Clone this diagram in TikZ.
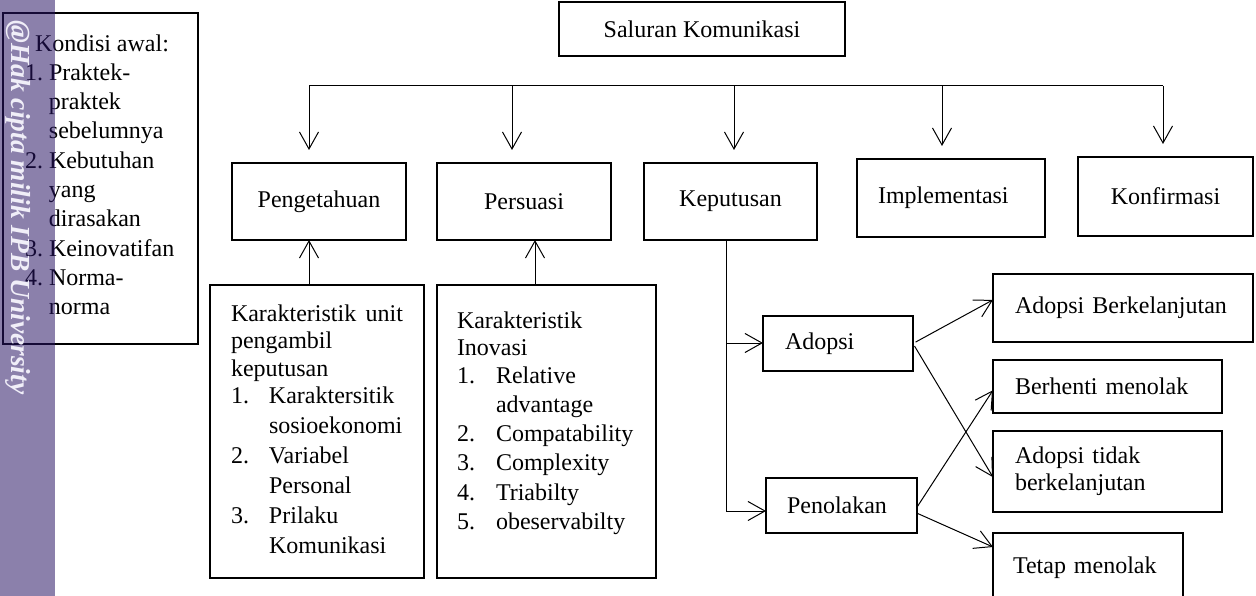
\documentclass[tikz,border=0pt]{standalone}
\usepackage{fontspec}
\usepackage{graphicx}
\setmainfont{Liberation Serif}
\newfontfamily\wmfont{Liberation Serif}
\usetikzlibrary{arrows.meta,calc}
\definecolor{wmband}{RGB}{40,20,100}
\definecolor{wmtext}{RGB}{240,238,248}
\begin{document}
\begin{tikzpicture}[x=1pt,y=-1pt,
  font=\fontsize{24}{29}\selectfont,
  box/.style={draw, line width=2.6pt, inner sep=0pt, outer sep=0pt, anchor=north west},
  cbox/.style={box, align=center},
  lbox/.style={box, align=left},
  conn/.style={line width=1pt},
  arr/.style={conn, -{Straight Barb[length=17pt,width=19pt]}},
  txt/.style={inner sep=0pt, outer sep=0pt, anchor=north west, align=left}
]
\useasboundingbox (0,0) rectangle (1256,596);
\clip (0,0) rectangle (1256,596);

% top row
\node[cbox, minimum width=286pt, minimum height=54pt] (sal) at (559,2) {Saluran Komunikasi};
\node[cbox, minimum width=174pt, minimum height=77pt] (peng) at (232,163) {Pengetahuan};
\node[cbox, minimum width=174pt, minimum height=77pt] (pers) at (437,163) {Persuasi};
\node[cbox, minimum width=173pt, minimum height=77pt] (kep) at (644,163) {Keputusan};
\node[lbox, inner xsep=21pt, text width=146pt, minimum height=78pt] (impl) at (857,159) {Implementasi};
\node[cbox, minimum width=175pt, minimum height=79pt] (konf) at (1078,157) {Konfirmasi};

% Kondisi awal
\node[box, minimum width=195pt, minimum height=331pt] (kond) at (3,13) {};
\node[txt, font=\fontsize{24}{29.3}\selectfont] (kondt) at (25,30.5)
 {\strut\hspace*{10pt}Kondisi awal:\\
  \makebox[24pt][l]{1.}Praktek-\\
  \hspace*{24pt}praktek\\
  \hspace*{24pt}sebelumnya\\
  \makebox[24pt][l]{2.}Kebutuhan\\
  \hspace*{24pt}yang\\
  \hspace*{24pt}dirasakan\\
  \makebox[24pt][l]{3.}Keinovatifan\\
  \makebox[24pt][l]{4.}Norma-\\
  \hspace*{24pt}norma};

% lower characteristic boxes
\node[box, minimum width=214pt, minimum height=293pt] (kar1) at (210,285) {};
\node[txt, font=\fontsize{24}{27.5}\selectfont] (kar1t) at (231,301.75)
 {\strut\makebox[172pt][s]{Karakteristik unit}\\
  pengambil\\
  keputusan\\
  \makebox[38pt][l]{1.}Karaktersitik\\[2.5pt]
  \hspace*{38pt}sosioekonomi\\[2.5pt]
  \makebox[38pt][l]{2.}Variabel\\[2.5pt]
  \hspace*{38pt}Personal\\[2.5pt]
  \makebox[38pt][l]{3.}Prilaku\\[2.5pt]
  \hspace*{38pt}Komunikasi};

\node[box, minimum width=219pt, minimum height=293pt] (kar2) at (437,285) {};
\node[txt, font=\fontsize{24}{27.5}\selectfont] (kar2t) at (457,308.75)
 {\strut Karakteristik\\
  Inovasi\\
  \makebox[39pt][l]{1.}Relative\\[1.8pt]
  \hspace*{39pt}advantage\\[1.8pt]
  \makebox[39pt][l]{2.}Compatability\\[1.8pt]
  \makebox[39pt][l]{3.}Complexity\\[1.8pt]
  \makebox[39pt][l]{4.}Triabilty\\[1.8pt]
  \makebox[39pt][l]{5.}obeservabilty};

% decision branch
\node[lbox, inner xsep=22pt, text width=106pt, minimum height=55pt] (adop) at (763,316) {Adopsi};
\node[lbox, inner xsep=21pt, text width=109pt, minimum height=55pt] (penol) at (766,478) {Penolakan};
\node[lbox, inner xsep=22pt, text width=216pt, minimum height=68pt] (ab) at (993,274) {Adopsi Berkelanjutan};
\node[lbox, inner xsep=22pt, text width=185pt, minimum height=53pt] (bm) at (993,360) {Berhenti menolak};
\node[lbox, inner xsep=22pt, text width=185pt, minimum height=81pt, font=\fontsize{24}{27}\selectfont] (atb) at (993,431) {Adopsi tidak\\berkelanjutan};
\node[lbox, inner xsep=20pt, text width=150pt, minimum height=70pt] (tm) at (993,533) {Tetap menolak};

% connectors: channel to stages
\coordinate (h1) at (309,86);
\coordinate (h2) at (512,86);
\coordinate (h3) at (734,86);
\coordinate (h4) at (942,86);
\coordinate (h5) at (1163,86);
\draw[conn] (h1) -- (h5);
\foreach \c/\n in {h1/peng,h2/pers,h3/kep,h4/impl,h5/konf}
  \draw[arr, shorten >=13pt] (\c) -- (\c |- \n.north);

% up arrows
\coordinate (u1) at (309,0);
\coordinate (u2) at (535,0);
\draw[arr] (u1 |- kar1.north) -- (u1 |- peng.south);
\draw[arr] (u2 |- kar2.north) -- (u2 |- pers.south);

% Keputusan branch
\coordinate (v1) at (726,343);
\coordinate (v2) at (726,511);
\draw[conn] (v1 |- kep.south) -- (v2);
\draw[arr] (v1) -- (v1 -| adop.west);
\draw[arr] (v2) -- (v2 -| penol.west);

% outcomes
\draw[arr, shorten <=3pt] (adop.east) -- ($(ab.north west)!0.38!(ab.south west)$);
\draw[arr, shorten <=3pt] (adop.east) -- ($(atb.north west)!0.57!(atb.south west)$);
\draw[arr] ($(penol.north east)!0.53!(penol.south east)$) -- ($(bm.north west)!0.57!(bm.south west)$);
\draw[arr] ($(penol.north east)!0.64!(penol.south east)$) -- ($(tm.north west)!0.2!(tm.south west)$);

% watermark band
\begin{scope}
\fill[wmband, opacity=0.54] (0,0) rectangle (55,596);
\end{scope}
\node[rotate=-90, anchor=base west, inner sep=0pt, text=wmtext] (wm) at (11,20)
  {\textcolor{wmtext}{\fontsize{27.5}{30}\selectfont\bfseries\itshape @Hak cipta milik IPB University}};
\end{tikzpicture}
\end{document}
